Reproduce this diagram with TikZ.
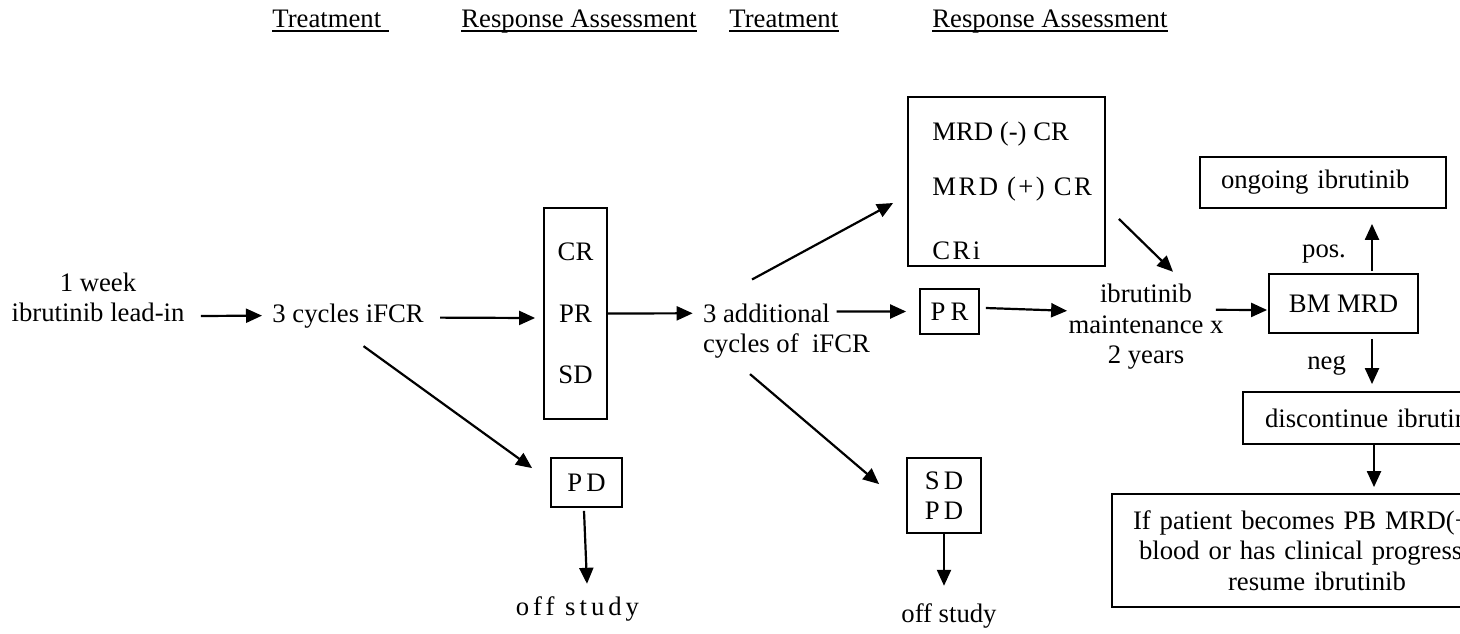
\documentclass[tikz,border=0pt]{standalone}
\usepackage{fontspec}
\setmainfont{Liberation Serif}
\usetikzlibrary{arrows.meta, positioning, calc}
\newcommand{\fs}{\fontsize{13.35pt}{15.25pt}\selectfont}
\newcommand{\spc}[2]{{\addfontfeatures{LetterSpace=#1}#2}}

\begin{document}
\begin{tikzpicture}[
            x=0.5pt, y=-0.5pt,
            font=\fs,
            txt/.style={inner sep=0pt},
            box/.style={draw, line width=0.9pt, inner sep=0pt, align=center},
            lbox/.style={draw, line width=0.9pt, inner ysep=0pt, align=left},
            arr/.style={-{Triangle[length=8pt, width=7pt]}, line width=1.1pt},
            uline/.style={line width=0.75pt}
        ]
            \clip (0,0) rectangle (1460,633);

            % Headers
            \node[txt, anchor=base west] (trt1) at (272,27) {Treatment};
            \node[txt, anchor=base west] (resp1) at (461,27) {Response Assessment};
            \node[txt, anchor=base west] (trt2) at (729,27) {Treatment};
            \node[txt, anchor=base west] (resp2) at (932,27) {Response Assessment};
            \draw[uline] ($(trt1.base west)+(0,4)$) -- ($(trt1.base east)+(7,4)$);
            \draw[uline] ($(resp1.base west)+(0,4)$) -- ($(resp1.base east)+(0,4)$);
            \draw[uline] ($(trt2.base west)+(0,4)$) -- ($(trt2.base east)+(0,4)$);
            \draw[uline] ($(resp2.base west)+(0,4)$) -- ($(resp2.base east)+(0,4)$);

            % Nodes
            \node[txt, align=center] (lead) at (98,297.5) {1 week\\ibrutinib lead-in};
            \node[txt, anchor=base west] (cyc3) at (272,322) {3 cycles iFCR};
            \node[box, minimum width=31.5pt, minimum height=105.5pt] (resp) at (575.5,313.5) {CR\\[15.5pt]PR\\[15.5pt]SD};
            \node[box, minimum width=35.5pt, minimum height=24.5pt] (pd1) at (586.5,482.5) {\spc{15}{PD}};
            \node[txt, anchor=base] (off1) at (577.5,615) {\spc{15}{off study}};

            \node[txt, align=left] (add3) at (786.5,331.3) {3 additional\\cycles of\ \ iFCR};
            \node[box, minimum width=98.5pt, minimum height=84.5pt] (mrd) at (1006.5,181.5) {};
            \node[txt, anchor=base west] (mrdneg) at (932,140) {MRD (-) CR};
            \node[txt, anchor=base west] (mrdpos) at (932,195) {\spc{9}{MRD (+) CR}};
            \node[txt, anchor=base west] (mrdcri) at (932,259) {\spc{9}{CRi}};
            \node[box, minimum width=29.5pt, minimum height=22.5pt] (pr2) at (949.5,311.5) {\spc{20}{PR}};
            \node[box, minimum width=37pt, minimum height=37.5pt] (sdpd) at (944,495.5) {\spc{15}{SD}\\\spc{15}{PD}};
            \node[txt, anchor=base] (off2) at (949,622) {off study};

            \node[txt, align=center] (maint) at (1146,326.8) {ibrutinib\\maintenance x\\2 years};
            \node[box, minimum width=74.5pt, minimum height=29.5pt] (bmmrd) at (1343.5,303.5) {BM MRD};
            \node[lbox, inner xsep=10.5pt, text width=102pt, minimum height=25.5pt] (ongoing) at (1323,182.5) {ongoing ibrutinib};
            \node[lbox, inner xsep=11pt, text width=116.5pt, minimum height=26pt] (disc) at (1381.5,418) {discontinue ibrutin};
            \node[lbox, inner xsep=10.5pt, text width=188pt, minimum height=56.5pt] (resume) at (1321,550.5)
                {If patient becomes PB MRD(+\\\hspace*{3pt}blood or has clinical progressi\\\hspace*{47.5pt}resume ibrutinib};

            % Arrows
            \draw[arr] ($(lead.east)+(16,18.5)$) -- ($(cyc3.west)+(-10,0)$);
            \draw[arr] ($(cyc3.east)+(16,2)$) -- ($(resp.west)+(-8,4.5)$);
            \draw[arr] ($(cyc3.south)+(15.5,18)$) -- ($(pd1.north west)+(-18,11)$);
            \draw[arr] ($(pd1.south)+(-2.5,3)$) -- ($(off1.north)+(9.5,-12)$);
            \draw[arr] (resp.east) -- ($(add3.west)+(-10,-18)$);
            \draw[arr] ($(add3.north)+(-34.5,-24)$) -- ($(mrd.west)+(-14,21.5)$);
            \draw[arr] ($(add3.north west)+(134,8)$) -- ($(pr2.west)+(-13,0)$);
            \draw[arr] ($(add3.south)+(-36.5,15)$) -- ($(sdpd.north west)+(-27,27)$);
            \draw[arr] (sdpd.south) -- ($(off2.north)+(-5,-17)$);
            \draw[arr] ($(mrd.south east)+(13,-48)$) -- ($(maint.north)+(27,-12)$);
            \draw[arr] ($(pr2.east)+(6,-3.5)$) -- ($(maint.west)+(-1,-16)$);
            \draw[arr] ($(maint.east)+(-8,-17)$) -- ($(bmmrd.west)+(-1,6.5)$);
            \draw[arr] ($(bmmrd.north)+(28.5,-2)$) -- node[txt, pos=0.29, anchor=base east, xshift=-12.5pt] (poslbl) {pos.} ($(ongoing.south)+(49,15)$);
            \draw[arr] ($(bmmrd.south)+(28.5,5)$) -- node[txt, pos=0.68, anchor=base east, xshift=-12.5pt] (neglbl) {neg} ($(disc.north)+(-9.5,-7)$);
            \draw[arr] ($(disc.south)+(-7.5,0)$) -- ($(resume.north)+(53,-6)$);

        \end{tikzpicture}
\end{document}
